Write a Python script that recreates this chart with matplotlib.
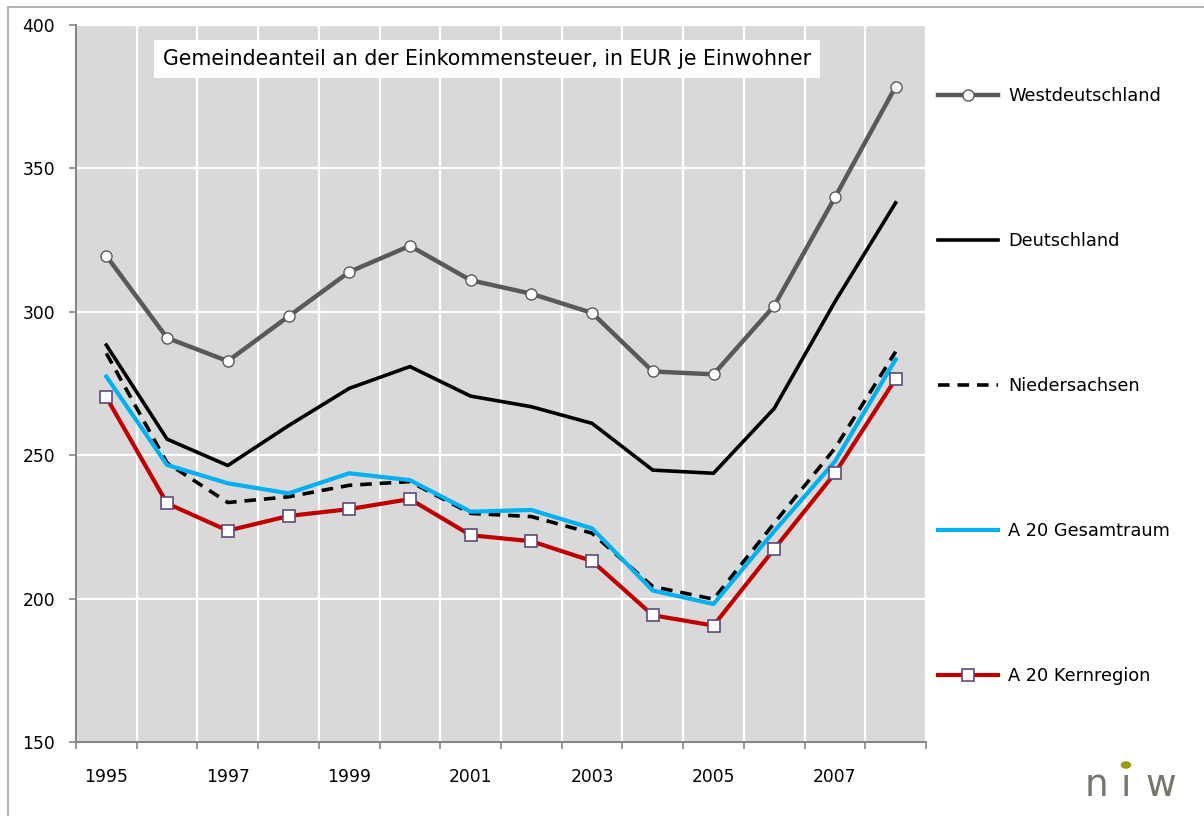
import matplotlib
matplotlib.use("Agg")
import matplotlib.pyplot as plt
from matplotlib.lines import Line2D
from matplotlib.patches import Circle

years = list(range(1995, 2009))
tick_years = [1995, 1997, 1999, 2001, 2003, 2005, 2007]

westdeutschland = [319.5, 290.9, 282.8, 298.4, 313.9, 323.0, 311.0,
                   306.3, 299.6, 279.2, 278.2, 302.1, 339.9, 378.5]
deutschland = [288.4, 255.6, 246.4, 260.3, 273.3, 280.9, 270.6,
               266.9, 261.1, 244.8, 243.7, 266.3, 303.5, 338.0]
niedersachsen = [285.5, 247.3, 233.5, 235.5, 239.5, 240.8, 229.7,
                 228.6, 222.8, 204.2, 199.8, 226.3, 252.4, 286.1]
a20_gesamtraum = [277.4, 246.6, 240.2, 236.7, 243.7, 241.3, 230.3,
                  230.9, 224.5, 202.8, 198.1, 223.5, 247.8, 283.4]
a20_kernregion = [270.2, 233.2, 223.7, 228.8, 231.2, 234.7, 222.1,
                  220.0, 213.1, 194.2, 190.6, 217.3, 243.7, 276.6]

series_names = ["Westdeutschland", "Deutschland", "Niedersachsen",
                "A 20 Gesamtraum", "A 20 Kernregion"]
title_text = "Gemeindeanteil an der Einkommensteuer, in EUR je Einwohner"

W, H = 1204, 816
fig = plt.figure(figsize=(W / 100, H / 100), dpi=100)
ax = fig.add_axes([76 / W, 1 - 742 / H, 850 / W, 717 / H])

axis_gray = "#868686"
ax.set_facecolor("#d9d9d9")
x = list(range(len(years)))

ax.plot(x, westdeutschland, color="#595959", lw=3.2, marker="o", ms=8,
        mfc="white", mec="#595959", mew=1.0, label=series_names[0], zorder=3)
ax.plot(x, deutschland, color="black", lw=2.6, label=series_names[1], zorder=3)
ax.plot(x, niedersachsen, color="black", lw=2.6, dashes=(3.2, 2.2),
        label=series_names[2], zorder=3)
ax.plot(x, a20_gesamtraum, color="#00b0f0", lw=3.0, label=series_names[3],
        zorder=3)
ax.plot(x, a20_kernregion, color="#c00000", lw=3.0, marker="s", ms=8.5,
        mfc="white", mec="#604a7b", mew=1.2, label=series_names[4], zorder=4)

ax.set_xlim(-0.5, len(years) - 0.5)
ax.set_ylim(150, 400)
ax.set_yticks([150, 200, 250, 300, 350, 400])

# category boundaries carry the tick marks and vertical grid
ax.set_xticks([i - 0.5 for i in range(len(years) + 1)])
ax.set_xticklabels([])
ax.set_xticks([years.index(y) for y in tick_years], minor=True)
ax.set_xticklabels([str(y) for y in tick_years], minor=True)
ax.tick_params(axis="x", which="minor", length=0, pad=19, labelsize=12.3)
ax.tick_params(axis="x", which="major", length=5, width=1.2, color=axis_gray,
               direction="out")
ax.tick_params(axis="y", length=5, width=1.2, color=axis_gray, pad=10,
               labelsize=12.3)

ax.grid(True, which="major", color="white", lw=1.6, zorder=0)
ax.set_axisbelow(True)
for side in ("top", "right"):
    ax.spines[side].set_visible(False)
for side in ("left", "bottom"):
    ax.spines[side].set_color(axis_gray)
    ax.spines[side].set_linewidth(1.5)

ax.text(163 / W, 1 - 59 / H, title_text, transform=fig.transFigure,
        fontsize=14.8, va="center", ha="left", zorder=5,
        bbox=dict(facecolor="white", edgecolor="none", pad=6.5))

leg = ax.legend(loc="upper left", bbox_to_anchor=(938 / W, 1 - 87 / H),
                bbox_transform=fig.transFigure, frameon=False, fontsize=12.8,
                handlelength=3.4, handletextpad=0.55, labelspacing=7.15,
                borderpad=0, borderaxespad=0)

# outer chart frame
fig.add_artist(Line2D([8 / W, 8 / W], [0, 1 - 7 / H], color="#a6a6a6",
                      lw=1.2, transform=fig.transFigure))
fig.add_artist(Line2D([8 / W, 1], [1 - 7 / H, 1 - 7 / H], color="#a6a6a6",
                      lw=1.2, transform=fig.transFigure))

# institute logo
logo_gray = "#76766a"
for ch, xc in (("n", 1096), ("\u0131", 1126), ("w", 1161)):
    fig.text(xc / W, 1 - 786 / H, ch, fontsize=27, color=logo_gray,
             ha="center", va="center", family="DejaVu Sans")
fig.add_artist(Circle((1126 / W, 1 - 765 / H), 4.5 / W, color="#9a9a10",
                      transform=fig.transFigure))

fig.savefig("out.png", dpi=100, facecolor="white")
